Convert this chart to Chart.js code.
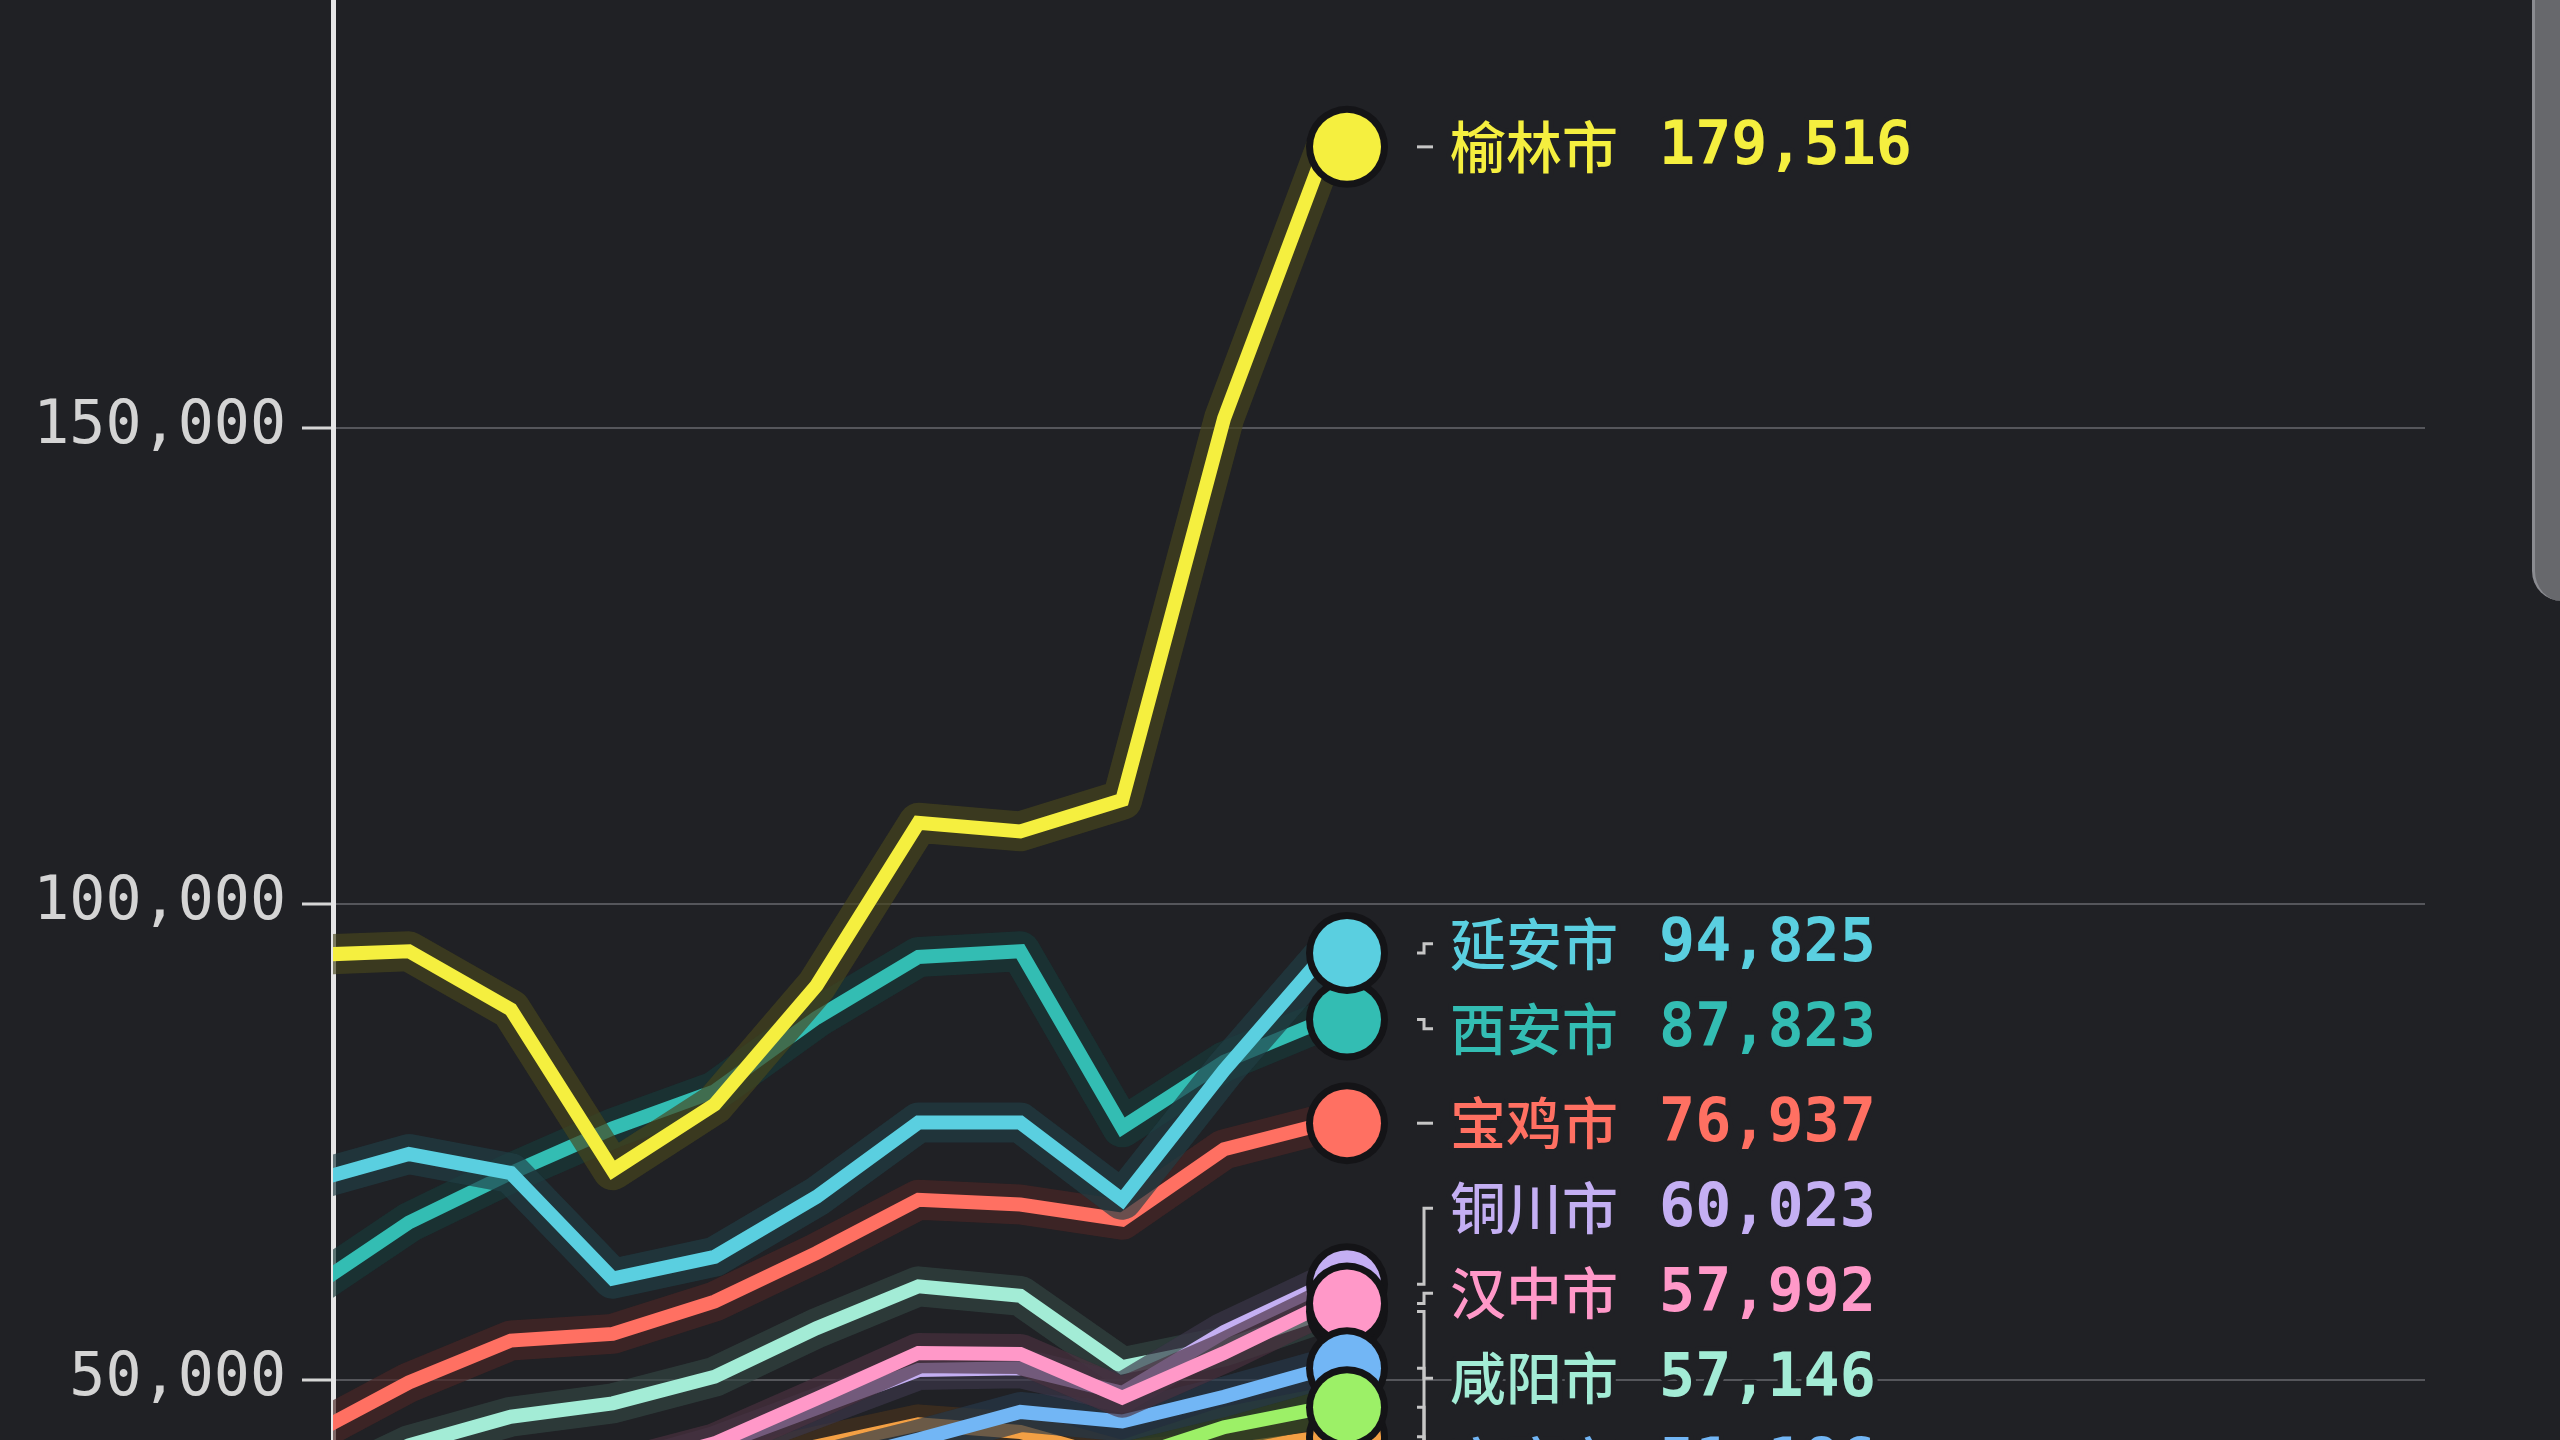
<!DOCTYPE html>
<html>
<head>
<meta charset="utf-8">
<script src="https://cdn.jsdelivr.net/npm/chart.js"></script>
<style>
  html, body { margin: 0; padding: 0; background: #202125; overflow: hidden; }
  #wrap { position: relative; width: 2560px; height: 1440px; }
  #myChart { display: block; background: #202125; }
  /* phone scroll handle at the right edge of the frame */
  #scroll { position: absolute; left: 2532px; top: -40px; width: 60px; height: 641px;
            background: #67686c; border-left: 3px solid #8a8b90; border-radius: 30px; box-sizing: border-box; }
</style>
</head>
<body>
<div id="wrap">
  <canvas id="myChart" width="2560" height="1440"></canvas>
  <div id="scroll"></div>
</div>

<script>
    // years on the (hidden) x axis
    var years = [2011, 2012, 2013, 2014, 2015, 2016, 2017, 2018, 2019, 2020, 2021];

    var yulin     = [94600, 95000, 88900, 72000, 78900, 91400, 108500, 107600, 110900, 151000, 179516];
    var yanan     = [70700, 73700, 71700, 60600, 62900, 69200, 77000, 77000, 68900, 82500, 94825];
    var xian      = [59300, 66500, 71700, 76400, 80300, 88000, 94400, 95000, 76500, 83400, 87823];
    var baoji     = [44000, 49700, 54100, 54800, 58200, 63300, 68900, 68400, 66800, 74200, 76937];
    var tongchuan = [35000, 36500, 38000, 40000, 43000, 47000, 51000, 51200, 48600, 55000, 60023];
    var xianyang  = [38000, 43100, 46100, 47500, 50300, 55400, 59800, 58800, 51300, 53500, 57146];
    var hanzhong  = [36000, 37500, 39000, 40500, 43300, 48000, 52800, 52700, 48100, 52800, 57992];
    var ankang    = [30000, 32000, 34000, 35500, 38000, 41000, 43700, 46600, 45600, 48200, 51186];
    var weinan    = [31000, 32500, 34000, 35000, 36500, 38500, 40000, 41000, 41500, 45000, 47100];
    var shangluo  = [33000, 35000, 37000, 38500, 40500, 43000, 45300, 44500, 41500, 42500, 44000];

    // listed in the order the end dots are stacked (later = on top)
    var cities = ['西安市', '延安市', '榆林市', '宝鸡市', '铜川市', '咸阳市', '汉中市', '安康市', '商洛市', '渭南市'];
    var values = [xian, yanan, yulin, baoji, tongchuan, xianyang, hanzhong, ankang, shangluo, weinan];
    var colors = ['#33bdb3', '#5acfe0', '#f5ef3f', '#ff7062', '#c4aff3', '#a3ecd6', '#ff98c8', '#72b6f5', '#f4a044', '#9cf067'];
    var lineOrder = [2, 1, 0, 3, 5, 6, 4, 7, 9, 8]; // lower = drawn over the others

    var yTicks = [50000, 100000, 150000];

    var BG = '#202125';

    var datasets = cities.map(function(name, k) {
        return {
            label: name,
            data: years.map(function(yr, i) { return { x: yr, y: values[k][i] }; }),
            borderColor: colors[k],
            borderWidth: 14,
            borderJoinStyle: 'miter',
            borderCapStyle: 'butt',
            pointRadius: 0,
            tension: 0,
            clip: 0,
            order: lineOrder[k]
        };
    });

    // dark tinted band under every line
    var halo = {
        id: 'halo',
        beforeDatasetDraw: function(chart, args) {
            var ctx = chart.ctx, a = chart.chartArea, pts = args.meta.data;
            var ds = chart.data.datasets[args.index];
            ctx.save();
            ctx.beginPath();
            ctx.rect(a.left, a.top, a.right - a.left, a.bottom - a.top);
            ctx.clip();
            ctx.beginPath();
            pts.forEach(function(p, i) { if (i) ctx.lineTo(p.x, p.y); else ctx.moveTo(p.x, p.y); });
            ctx.lineJoin = 'round';
            ctx.lineCap = 'round';
            ctx.lineWidth = 40;
            ctx.strokeStyle = 'rgba(14,14,17,0.6)';
            ctx.stroke();
            ctx.globalAlpha = 0.17;
            ctx.strokeStyle = ds.borderColor;
            ctx.stroke();
            ctx.restore();
        }
    };

    // end dots, leader lines and name / value labels
    var endLabels = {
        id: 'endLabels',
        afterDatasetsDraw: function(chart) {
            var ctx = chart.ctx, xs = chart.scales.x, ys = chart.scales.y;
            var last = years.length - 1;
            var dotX = xs.getPixelForValue(years[last]) + 21;
            var gap = 85;

            var items = cities.map(function(name, k) {
                var v = values[k][last];
                return { name: name, value: v, color: colors[k], ideal: ys.getPixelForValue(v) };
            });

            // dots
            items.forEach(function(it) {
                ctx.beginPath();
                ctx.arc(dotX, it.ideal, 41, 0, Math.PI * 2);
                ctx.fillStyle = '#141417';
                ctx.fill();
                ctx.beginPath();
                ctx.arc(dotX, it.ideal, 34, 0, Math.PI * 2);
                ctx.fillStyle = it.color;
                ctx.fill();
            });

            // group labels that sit too close, center each group, then push down
            var sorted = items.slice().sort(function(a, b) { return a.ideal - b.ideal; });
            var groups = [];
            sorted.forEach(function(it) {
                var g = groups[groups.length - 1];
                if (g && it.ideal - g[g.length - 1].ideal < gap) g.push(it);
                else groups.push([it]);
            });
            var prev = -Infinity;
            groups.forEach(function(g) {
                var mean = g.reduce(function(s, it) { return s + it.ideal; }, 0) / g.length;
                var top = Math.max(mean - (g.length - 1) * gap / 2, prev + gap);
                g.forEach(function(it, j) { it.y = top + j * gap; });
                prev = top + (g.length - 1) * gap;
            });

            // leader lines
            ctx.save();
            ctx.strokeStyle = '#c6c6c6';
            ctx.lineWidth = 3;
            sorted.forEach(function(it) {
                ctx.beginPath();
                ctx.moveTo(dotX + 70, it.ideal);
                ctx.lineTo(dotX + 77, it.ideal);
                ctx.lineTo(dotX + 77, it.y);
                ctx.lineTo(dotX + 86, it.y);
                ctx.stroke();
            });
            ctx.restore();

            // texts
            ctx.save();
            ctx.textBaseline = 'middle';
            ctx.textAlign = 'left';
            ctx.lineJoin = 'round';
            ctx.lineWidth = 10;
            ctx.strokeStyle = BG;
            sorted.forEach(function(it) {
                ctx.fillStyle = it.color;
                ctx.font = '500 56px "Noto Sans CJK SC"';
                ctx.strokeText(it.name, dotX + 103, it.y);
                ctx.fillText(it.name, dotX + 103, it.y);
                var txt = it.value.toLocaleString('en-US');
                ctx.font = 'bold 60px "DejaVu Sans Mono"';
                ctx.strokeText(txt, dotX + 312, it.y + 2);
                ctx.fillText(txt, dotX + 312, it.y + 2);
            });
            ctx.restore();
        }
    };

    var ctx = document.getElementById('myChart').getContext('2d');
    var myChart = new Chart(ctx, {
        type: 'line',
        data: { datasets: datasets },
        options: {
            responsive: false,
            animation: false,
            devicePixelRatio: 1,
            layout: { padding: { left: 0, top: 0, right: 135, bottom: 0 } },
            plugins: { legend: { display: false }, tooltip: { enabled: false } },
            scales: {
                x: {
                    type: 'linear',
                    min: 2011.255,
                    max: 2031.785,
                    display: false
                },
                y: {
                    position: 'left',
                    min: 43654,
                    max: 194946,
                    afterBuildTicks: function(s) {
                        s.ticks = yTicks.map(function(v) { return { value: v }; });
                    },
                    afterFit: function(s) {
                        s.width = 333;
                        s.paddingTop = 0;
                        s.paddingBottom = 0;
                    },
                    ticks: {
                        color: '#d4d4d4',
                        padding: 16,
                        font: { family: '"DejaVu Sans Mono"', size: 60 },
                        callback: function(v) { return v.toLocaleString('en-US'); }
                    },
                    grid: {
                        color: '#55565b',
                        lineWidth: 2,
                        tickColor: '#d6d6d6',
                        tickWidth: 3,
                        tickLength: 31
                    },
                    border: { color: '#e6e6e6', width: 5 }
                }
            }
        },
        plugins: [halo, endLabels]
    });
</script>
</body>
</html>
